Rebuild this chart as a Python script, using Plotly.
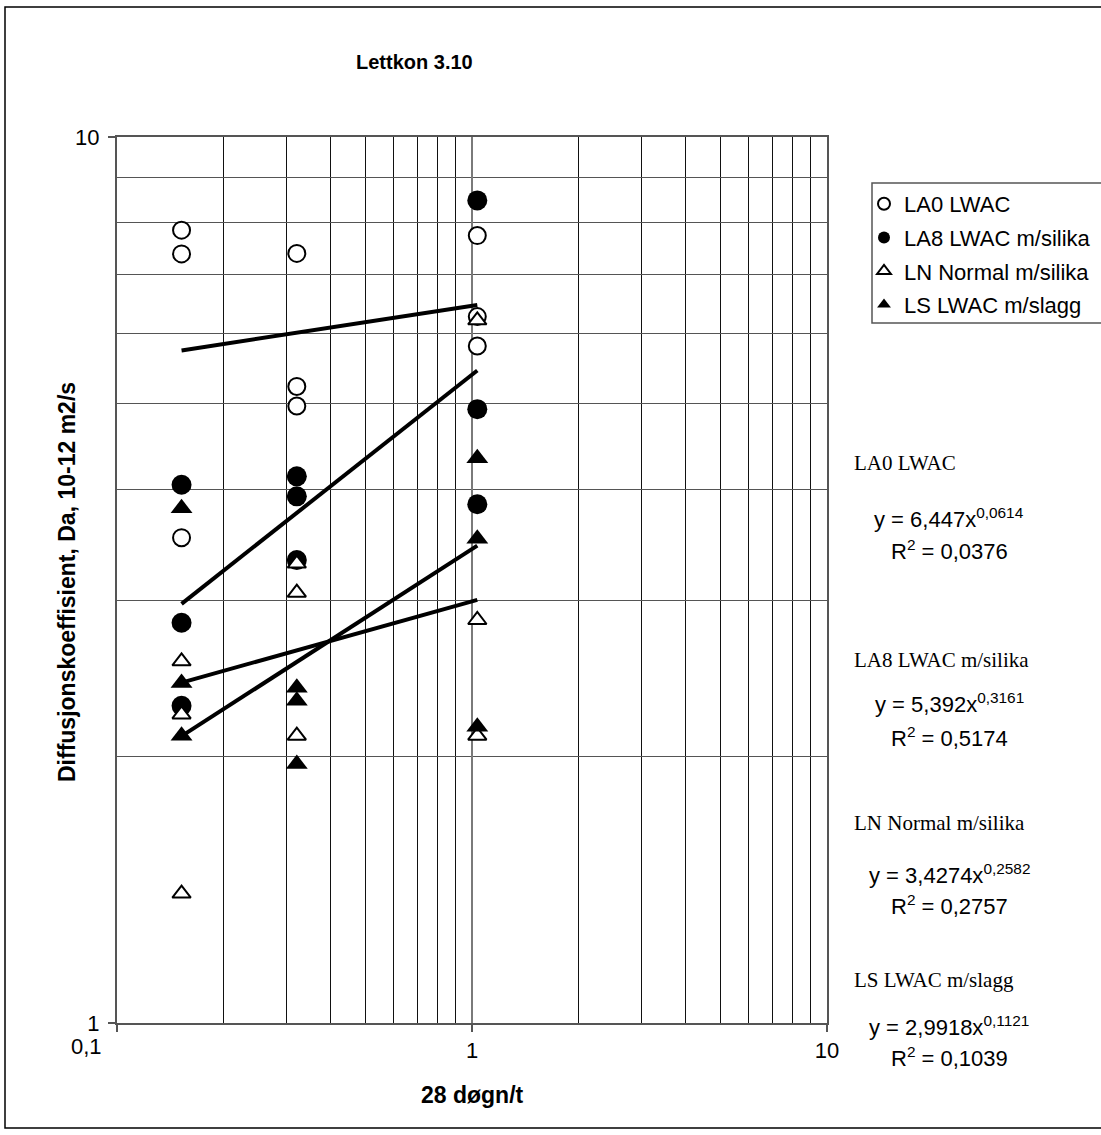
import plotly.graph_objects as go

# ---- data -------------------------------------------------------------
# x: 28 døgn / t  (three test ages), y: diffusion coefficient Da [10^-12 m2/s]
age_x = [0.152, 0.152, 0.152, 0.321, 0.321, 0.321, 1.035, 1.035, 1.035]

series_names = ["LA0 LWAC", "LA8 LWAC m/silika", "LN Normal m/silika", "LS LWAC m/slagg"]

la0_y = [7.85, 7.38, 3.53, 7.39, 5.23, 4.97, 7.74, 6.27, 5.81]
la8_y = [4.05, 2.83, 2.28, 4.14, 3.93, 3.33, 8.48, 4.93, 3.85]
ln_y = [2.56, 2.23, 1.40, 3.30, 3.06, 2.11, 6.21, 2.85, 2.11]
ls_y = [3.81, 2.42, 2.11, 2.39, 2.31, 1.96, 4.34, 3.52, 2.16]

# power-law trend lines y = a * x^b
fit_a = [6.447, 5.392, 3.4274, 2.9918]
fit_b = [0.0614, 0.3161, 0.2582, 0.1121]
fit_r2 = [0.0376, 0.5174, 0.2757, 0.1039]

x_ticks = [0.1, 1, 10]
x_tick_text = ["0,1", "1", "10"]
x_minor = [0.2, 0.3, 0.4, 0.5, 0.6, 0.7, 0.8, 0.9, 2, 3, 4, 5, 6, 7, 8, 9]
y_ticks = [1, 10]
y_tick_text = ["1", "10"]
y_minor = [2, 3, 4, 5, 6, 7, 8, 9]

# ---- layout geometry (pixels) ------------------------------------------
W, H = 1101, 1135
PL, PR, PT, PB = 117, 827, 137, 1023


def px(xp):
    return (xp - PL) / (PR - PL)


def py(yp):
    return (PB - yp) / (PB - PT)


def comma(v):
    return repr(v).replace(".", ",")


SANS = "Liberation Sans, Arial, sans-serif"
SERIF = "Liberation Serif, Times New Roman, serif"

styles = [
    dict(symbol="circle", size=17, color="white", line=dict(color="black", width=2)),
    dict(symbol="circle", size=20, color="black", line=dict(color="black", width=0)),
    dict(symbol="triangle-up", size=16, color="white", line=dict(color="black", width=2)),
    dict(symbol="triangle-up", size=19, color="black", line=dict(color="black", width=0)),
]
values = [la0_y, la8_y, ln_y, ls_y]

fig = go.Figure()

for i, (name, ys) in enumerate(zip(series_names, values)):
    fig.add_trace(go.Scatter(
        x=age_x, y=ys, mode="markers", name=name,
        marker=styles[i], legendgroup=f"g{i}", showlegend=True,
    ))

# trend lines drawn over the markers
for i, name in enumerate(series_names):
    xs = [min(age_x), max(age_x)]
    ys = [fit_a[i] * x ** fit_b[i] for x in xs]
    fig.add_trace(go.Scatter(
        x=xs, y=ys, mode="lines", showlegend=False,
        line=dict(color="black", width=4),
    ))

axis_common = dict(
    type="log",
    showgrid=True, gridcolor="#7a7a7a", gridwidth=2,
    showline=True, linecolor="#555555", linewidth=2, mirror=True,
    ticks="outside", ticklen=7, tickcolor="#555555", tickwidth=1.5,
    tickfont=dict(family=SANS, size=22, color="black"),
    tickmode="array",
)

# the first x label sits left of the axis corner, so it is placed separately
fig.update_xaxes(
    **axis_common, range=[-1, 1],
    tickvals=x_ticks, ticktext=[""] + x_tick_text[1:],
    minor=dict(tickmode="array", tickvals=x_minor, showgrid=True,
               gridcolor="#111111", gridwidth=1, ticks=""),
)
fig.update_yaxes(
    **axis_common, range=[0, 1],
    tickvals=y_ticks, ticktext=y_tick_text, ticklabelstandoff=4,
    minor=dict(tickmode="array", tickvals=y_minor, showgrid=True,
               gridcolor="#555555", gridwidth=1, ticks=""),
)

annotations = [
    dict(text="<b>Lettkon 3.10</b>", x=px(414), y=py(62),
         font=dict(family=SANS, size=20, color="black")),
    dict(text="<b>28 døgn/t</b>", x=px(472), y=py(1095),
         font=dict(family=SANS, size=23, color="black")),
    dict(text="<b>Diffusjonskoeffisient, Da, 10-12 m2/s</b>", x=px(67), y=py(582),
         textangle=-90, font=dict(family=SANS, size=23, color="black")),
    dict(text=x_tick_text[0], x=px(86), y=py(1046),
         font=dict(family=SANS, size=22, color="black")),
]

label_y = [463, 660, 823, 980]
eq_y = [522, 707, 878, 1030]
r2_y = [553, 740, 908, 1060]
for i, name in enumerate(series_names):
    annotations.append(dict(
        text=name, x=px(852), y=py(label_y[i]), xanchor="left",
        font=dict(family=SERIF, size=21, color="black")))
    annotations.append(dict(
        text=f"y = {comma(fit_a[i])}x<sup>{comma(fit_b[i])}</sup>",
        x=px(949), y=py(eq_y[i] - 4),
        font=dict(family=SANS, size=22, color="black")))
    annotations.append(dict(
        text=f"R<sup>2</sup> = {comma(fit_r2[i])}",
        x=px(949), y=py(r2_y[i] - 3),
        font=dict(family=SANS, size=22, color="black")))

for a in annotations:
    a.setdefault("xref", "paper")
    a.setdefault("yref", "paper")
    a.setdefault("showarrow", False)
    a.setdefault("xanchor", "center")
    a.setdefault("yanchor", "middle")

shapes = [
    # outer chart frame
    dict(type="rect", xref="paper", yref="paper",
         x0=px(5), x1=px(1120), y0=py(1128), y1=py(7),
         line=dict(color="black", width=1.5), fillcolor="rgba(0,0,0,0)"),
    # legend frame
    dict(type="rect", xref="paper", yref="paper",
         x0=px(872), x1=px(1120), y0=py(323), y1=py(183),
         line=dict(color="#555555", width=1.5), fillcolor="rgba(0,0,0,0)"),
]

fig.update_layout(
    width=W, height=H,
    margin=dict(l=PL, r=W - PR, t=PT, b=H - PB, autoexpand=False),
    paper_bgcolor="white", plot_bgcolor="white",
    showlegend=True,
    legend=dict(
        x=px(864), y=py(183), xanchor="left", yanchor="top",
        bgcolor="rgba(0,0,0,0)", borderwidth=0,
        font=dict(family=SANS, size=22, color="black"),
        itemsizing="constant", traceorder="grouped", tracegroupgap=2,
    ),
    annotations=annotations,
    shapes=shapes,
    hovermode=False,
)

fig.write_html("out.html")
